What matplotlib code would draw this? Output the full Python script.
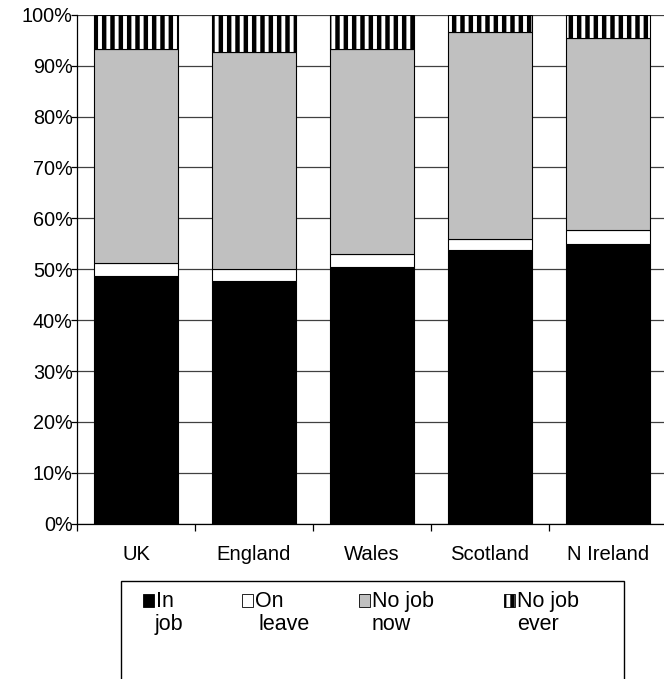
import numpy as np
import matplotlib.pyplot as plt
from matplotlib.patches import Rectangle

# values (percent of each group)
categories = ['UK', 'England', 'Wales', 'Scotland', 'N Ireland']
in_job = [48.7, 47.7, 50.45, 53.8, 55.0]
on_leave = [2.5, 2.4, 2.45, 2.15, 2.8]
no_job_now = [42.0, 42.65, 40.4, 40.75, 37.7]
no_job_ever = [6.8, 7.25, 6.7, 3.3, 4.5]
series_labels = [('In', 'job'), ('On', 'leave'), ('No job', 'now'), ('No job', 'ever')]

plt.rcParams['font.family'] = ['Liberation Sans', 'DejaVu Sans']
plt.rcParams['font.size'] = 14
plt.rcParams['hatch.linewidth'] = 3.2

faces = ['black', 'white', '#c0c0c0', 'white']
hatches = [None, None, None, '||']

fig = plt.figure(figsize=(6.64, 6.79), dpi=100)
W, H = 664, 679
ax = fig.add_axes([77 / W, 155.2 / H, 590 / W, 509.1 / H])

x = np.arange(len(categories))
bottom = np.zeros(len(categories))
for vals, face, hatch in zip([in_job, on_leave, no_job_now, no_job_ever], faces, hatches):
    ax.bar(x, vals, 0.72, bottom=bottom, color=face, edgecolor='black',
           linewidth=0.8, hatch=hatch, zorder=3)
    bottom += np.array(vals)

ax.set_xlim(-0.5, len(categories) - 0.5)
ax.set_ylim(0, 100)
ax.set_yticks(np.arange(0, 101, 10))
ax.set_yticklabels([f'{v}%' for v in range(0, 101, 10)])
ax.yaxis.grid(True, color='#404040', linewidth=0.9, zorder=0)
ax.tick_params(axis='y', length=4, width=0.9, pad=-1, colors='black', labelsize=14.3)

ax.set_xticks(x)
ax.set_xticklabels(categories, fontsize=14.6)
ax.tick_params(axis='x', which='major', length=0, pad=15)
ax.set_xticks(np.arange(-0.5, len(categories), 1.0), minor=True)
ax.tick_params(axis='x', which='minor', length=5, width=0.9, direction='out')

for side in ['top', 'right']:
    ax.spines[side].set_visible(False)
for side in ['left', 'bottom']:
    ax.spines[side].set_linewidth(0.9)
    ax.spines[side].set_color('black')

# legend box (runs off the bottom of the figure like the original)
fig.patches.append(Rectangle((120.7 / W, -0.05), (624 - 120.7) / W, 0.05 + (679 - 581) / H,
                             transform=fig.transFigure, facecolor='none',
                             edgecolor='black', linewidth=1.0))
marker_x = [143, 242, 359, 504]
second_indent = [-1, 3, 0, 0]
for mx, face, hatch, (l1, l2), ind in zip(marker_x, faces, hatches, series_labels, second_indent):
    fig.patches.append(Rectangle((mx / W, (H - 607) / H), 11 / W, 13 / H,
                                 transform=fig.transFigure, facecolor=face,
                                 edgecolor='black', linewidth=0.6, hatch=hatch))
    fig.text((mx + 13) / W, (H - 607) / H, l1, va='baseline', ha='left', fontsize=15.5)
    fig.text((mx + 13 + ind) / W, (H - 630) / H, l2, va='baseline', ha='left', fontsize=15.5)

fig.savefig('out.png', dpi=100)
